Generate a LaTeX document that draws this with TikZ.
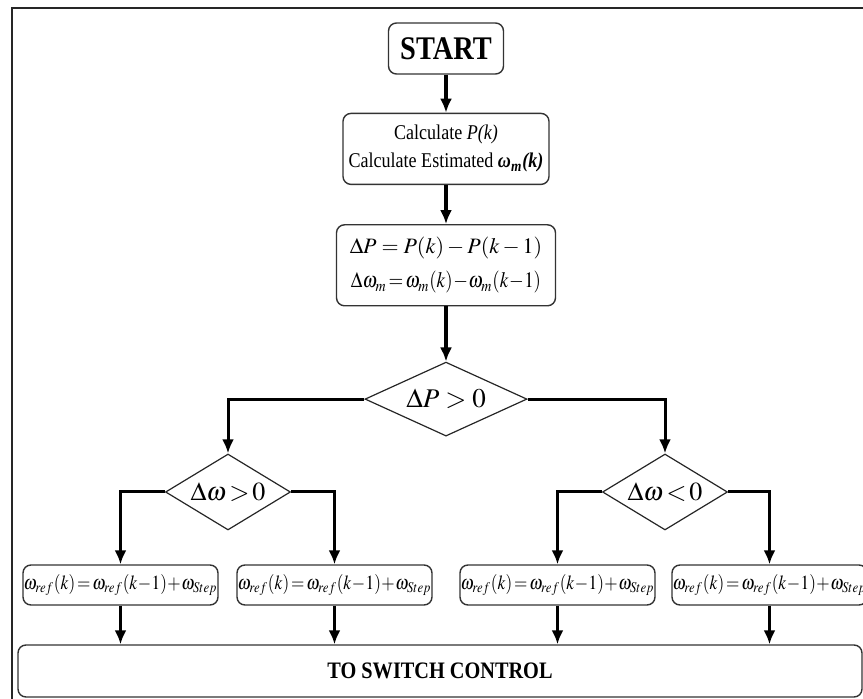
\documentclass[tikz,border=0pt]{standalone}
\usepackage{graphicx}
\usepackage{mathptmx}
\usepackage[no-math]{fontspec}
\setmainfont[FakeStretch=0.86]{Liberation Serif}
\usetikzlibrary{shapes, arrows.meta, positioning}
\tikzstyle{block} = [draw=black!80, line width=0.7pt, fill=white, rectangle, rounded corners=4pt, align=center, inner sep=0pt]
\tikzstyle{decision} = [draw=black!85, line width=0.6pt, fill=white, diamond, aspect=2.2, inner sep=0pt]
\tikzstyle{update} = [block, minimum width=97.5pt, minimum height=20pt, font=\fontsize{10}{12}\selectfont]
\tikzstyle{link} = [line width=1.7pt, -{Latex[length=7pt,width=6pt]}]
\newcommand{\narrow}[1]{\scalebox{0.86}[1]{#1}}
\newcommand{\wupdate}{\narrow{$\omega_{ref}(k)\!=\!\omega_{ref}(k\!-\!1)\!+\!\omega_{Step}$}}

\begin{document}
\begin{tikzpicture}[x=0.5pt, y=-0.5pt]
  \useasboundingbox (0,0) rectangle (863,699);
  \clip (0,0) rectangle (863,699);
  % outer frame
  \draw[line width=1.1pt, black!85] (12,8) rectangle (900,740);
  % main column
  \node[block, minimum width=57.5pt, minimum height=25.5pt,
        font=\fontsize{16.5}{18}\selectfont\bfseries] (start) at (446,48.5) {START};
  \node[block, below=19pt of start, minimum width=103pt, minimum height=35.5pt,
        font=\fontsize{10.5}{14}\selectfont] (calc)
    {Calculate \textit{P(k)}\\Calculate Estimated \textbf{\textit{ω\textsubscript{m}(k)}}};
  \node[block, below=19.5pt of calc, minimum width=109.5pt, minimum height=40.5pt,
        font=\fontsize{11}{16}\selectfont] (delta)
    {$\Delta P = P(k) - P(k-1)$\\[1pt]
     \narrow{$\Delta\omega_m\!=\!\omega_m(k)\!-\!\omega_m(k\!-\!1)$}};
  \node[decision, below=27.5pt of delta, minimum width=81pt, minimum height=37pt,
        font=\fontsize{13.5}{15}\selectfont] (dP) {$\Delta P > 0$};
  % second level decisions
  \node[decision, minimum width=62.5pt, minimum height=38pt,
        font=\fontsize{13}{15}\selectfont] (dwl) at (228,492) {$\Delta\omega\!>\!0$};
  \node[decision, minimum width=62.5pt, minimum height=38pt,
        font=\fontsize{13}{15}\selectfont] (dwr) at (665,492) {$\Delta\omega\!<\!0$};
  % reference speed updates
  \node[update] (u1) at (120.5,585) {\wupdate};
  \node[update] (u2) at (334.5,585) {\wupdate};
  \node[update] (u3) at (557.5,585) {\wupdate};
  \node[update] (u4) at (769.5,585) {\wupdate};
  \node[block, minimum width=422pt, minimum height=26pt,
        font=\fontsize{11.8}{14}\selectfont\bfseries] (sw) at (440,671) {TO SWITCH CONTROL};
  % connectors
  \draw[link] (start) -- (calc);
  \draw[link] (calc) -- (delta);
  \draw[link] (delta) -- (dP);
  \draw[link, line width=1.5pt] (dP.west) -| (dwl.north);
  \draw[link, line width=1.5pt] (dP.east) -| (dwr.north);
  \draw[link, line width=1.5pt] (dwl.west) -| (u1.north);
  \draw[link, line width=1.5pt] (dwl.east) -| (u2.north);
  \draw[link, line width=1.5pt] (dwr.west) -| (u3.north);
  \draw[link, line width=1.5pt] (dwr.east) -| (u4.north);
  \foreach \u in {u1,u2,u3,u4}
    \draw[link] (\u.south) -- (\u.south |- sw.north);
\end{tikzpicture}
\end{document}
